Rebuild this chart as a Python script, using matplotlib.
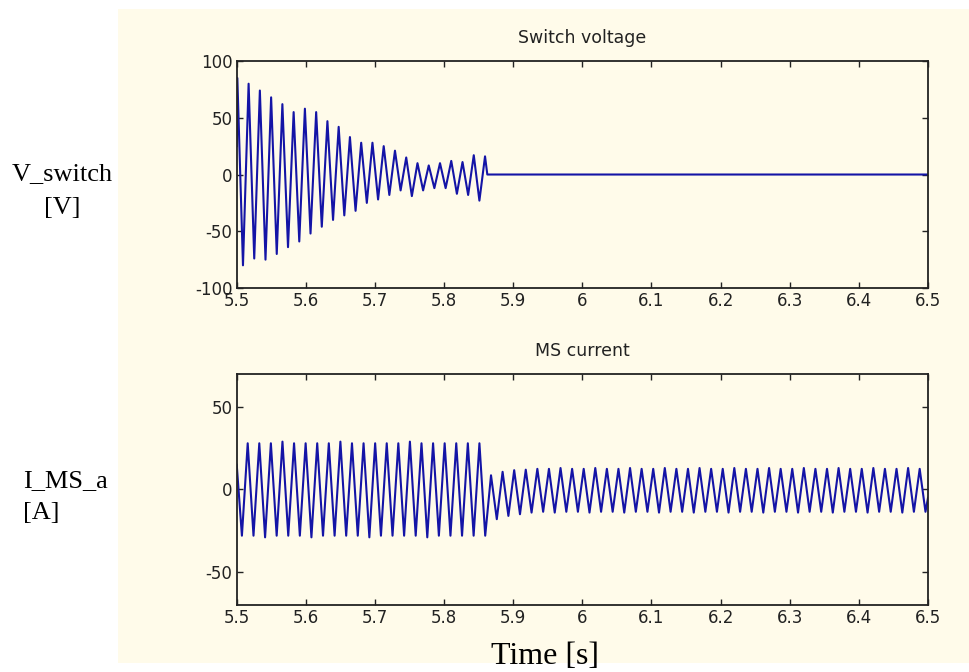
import matplotlib.pyplot as plt
from matplotlib.patches import Rectangle

plt.rcParams["axes.unicode_minus"] = False

# Switch voltage: extrema of each half cycle
v_t_first = 5.5009          # time of first peak
v_half = 0.008143           # time between neighbouring extrema
v_start = 25                # value at t = 5.5
v_peaks = [85, 80, 74, 68, 62, 55, 58, 55, 47, 42, 33, 28, 28, 25, 21, 15,
           10, 8, 10, 12, 11, 17, 16]
v_troughs = [-80, -74, -75, -70, -64, -59, -52, -46, -40, -36, -32, -25,
             -22, -18, -14, -19, -14, -12, -12, -17, -18, -23]
t_switch = 5.8625

# MS current: extrema of each half cycle
i_t_first = 5.5075          # time of first trough
i_half = 0.00838
i_start = 15
i_end = -5
i_troughs_pre = [-28, -28, -29, -28, -28, -28, -29, -28, -28, -28, -28,
                 -29, -28, -28, -28, -28, -29, -28, -28, -28, -28, -28]
i_peaks_pre = [28, 28, 28, 29, 28, 28, 28, 28, 29, 28, 28, 28, 28, 28, 29,
               28, 28, 28, 28, 28, 28]
i_peaks_post = [8.6, 10.7, 11.7, 12, 12.5, 12.5, 13, 12.5, 12.5, 13, 12.5,
                12.5, 13, 12.5, 12.5, 13, 12.5, 12.5, 13, 12.5, 12.5, 13,
                12.5, 12.5, 13, 12.5, 12.5, 13, 12.5, 12.5, 13, 12.5, 12.5,
                13, 12.5, 12.5, 13, 12.5]
i_troughs_post = [-18, -16, -15, -14, -13.5, -14, -13.5, -13.5, -14, -13.5,
                  -13.5, -14, -13.5, -13.5, -14, -13.5, -13.5, -14, -13.5,
                  -13.5, -14, -13.5, -13.5, -14, -13.5, -13.5, -14, -13.5,
                  -13.5, -14, -13.5, -13.5, -14, -13.5, -13.5, -14, -13.5,
                  -13.5]

x_ticks = [5.5, 5.6, 5.7, 5.8, 5.9, 6.0, 6.1, 6.2, 6.3, 6.4, 6.5]
x_labels = ["5.5", "5.6", "5.7", "5.8", "5.9", "6", "6.1", "6.2", "6.3", "6.4", "6.5"]


def interleave(a, b):
    out = []
    for k in range(len(a)):
        out.append(a[k])
        if k < len(b):
            out.append(b[k])
    return out


v_ext = interleave(v_peaks, v_troughs)
v_t = [5.5] + [v_t_first + k * v_half for k in range(len(v_ext))] + [t_switch, 6.5]
v_y = [v_start] + v_ext + [0, 0]

i_ext = interleave(i_troughs_pre, i_peaks_pre) + interleave(i_peaks_post, i_troughs_post)
i_t = [5.5] + [i_t_first + k * i_half for k in range(len(i_ext))] + [6.5]
i_y = [i_start] + i_ext + [i_end]

beige = "#fffbea"
line_col = "#1414a6"

fig = plt.figure(figsize=(9.69, 6.72), dpi=100)
fig.patches.append(Rectangle((118 / 969, 9 / 672), 851 / 969, 654 / 672,
                             transform=fig.transFigure, facecolor=beige,
                             edgecolor="none", zorder=-5))

ax1 = fig.add_axes([0.2443, 0.5714, 0.7134, 0.3378])
ax2 = fig.add_axes([0.2443, 0.0997, 0.7134, 0.3438])

ax1.plot(v_t, v_y, color=line_col, linewidth=1.5)
ax2.plot(i_t, i_y, color=line_col, linewidth=1.5)

ax1.set_ylim(-100, 100)
ax1.set_yticks([-100, -50, 0, 50, 100])
ax2.set_ylim(-70, 70)
ax2.set_yticks([-50, 0, 50])

ax1.set_title("Switch voltage", fontsize=12.5, pad=13, color="#222222")
ax2.set_title("MS current", fontsize=12.5, pad=13, color="#222222")

for ax in (ax1, ax2):
    ax.set_facecolor("none")
    ax.set_zorder(2)
    ax.set_xlim(5.5, 6.5)
    ax.set_xticks(x_ticks)
    ax.set_xticklabels(x_labels)
    ax.tick_params(direction="in", top=True, right=True, length=4,
                   width=1, labelsize=12, pad=3, colors="#222222")
    for s in ax.spines.values():
        s.set_linewidth(1.3)
        s.set_color("#222222")

fig.text(62 / 969, 1 - 191 / 672, "V_switch\n[V]", family="Liberation Serif",
         fontsize=19, ha="center", va="center", multialignment="center",
         linespacing=1.65)
fig.text(23 / 969, 1 - 497 / 672, "I_MS_a\n[A]", family="Liberation Serif",
         fontsize=19, ha="left", va="center", multialignment="left",
         linespacing=1.6)
fig.text(545 / 969, 1 - 657 / 672, "Time [s]", family="Liberation Serif",
         fontsize=23, ha="center", va="center")

fig.savefig("out.png", dpi=100)
